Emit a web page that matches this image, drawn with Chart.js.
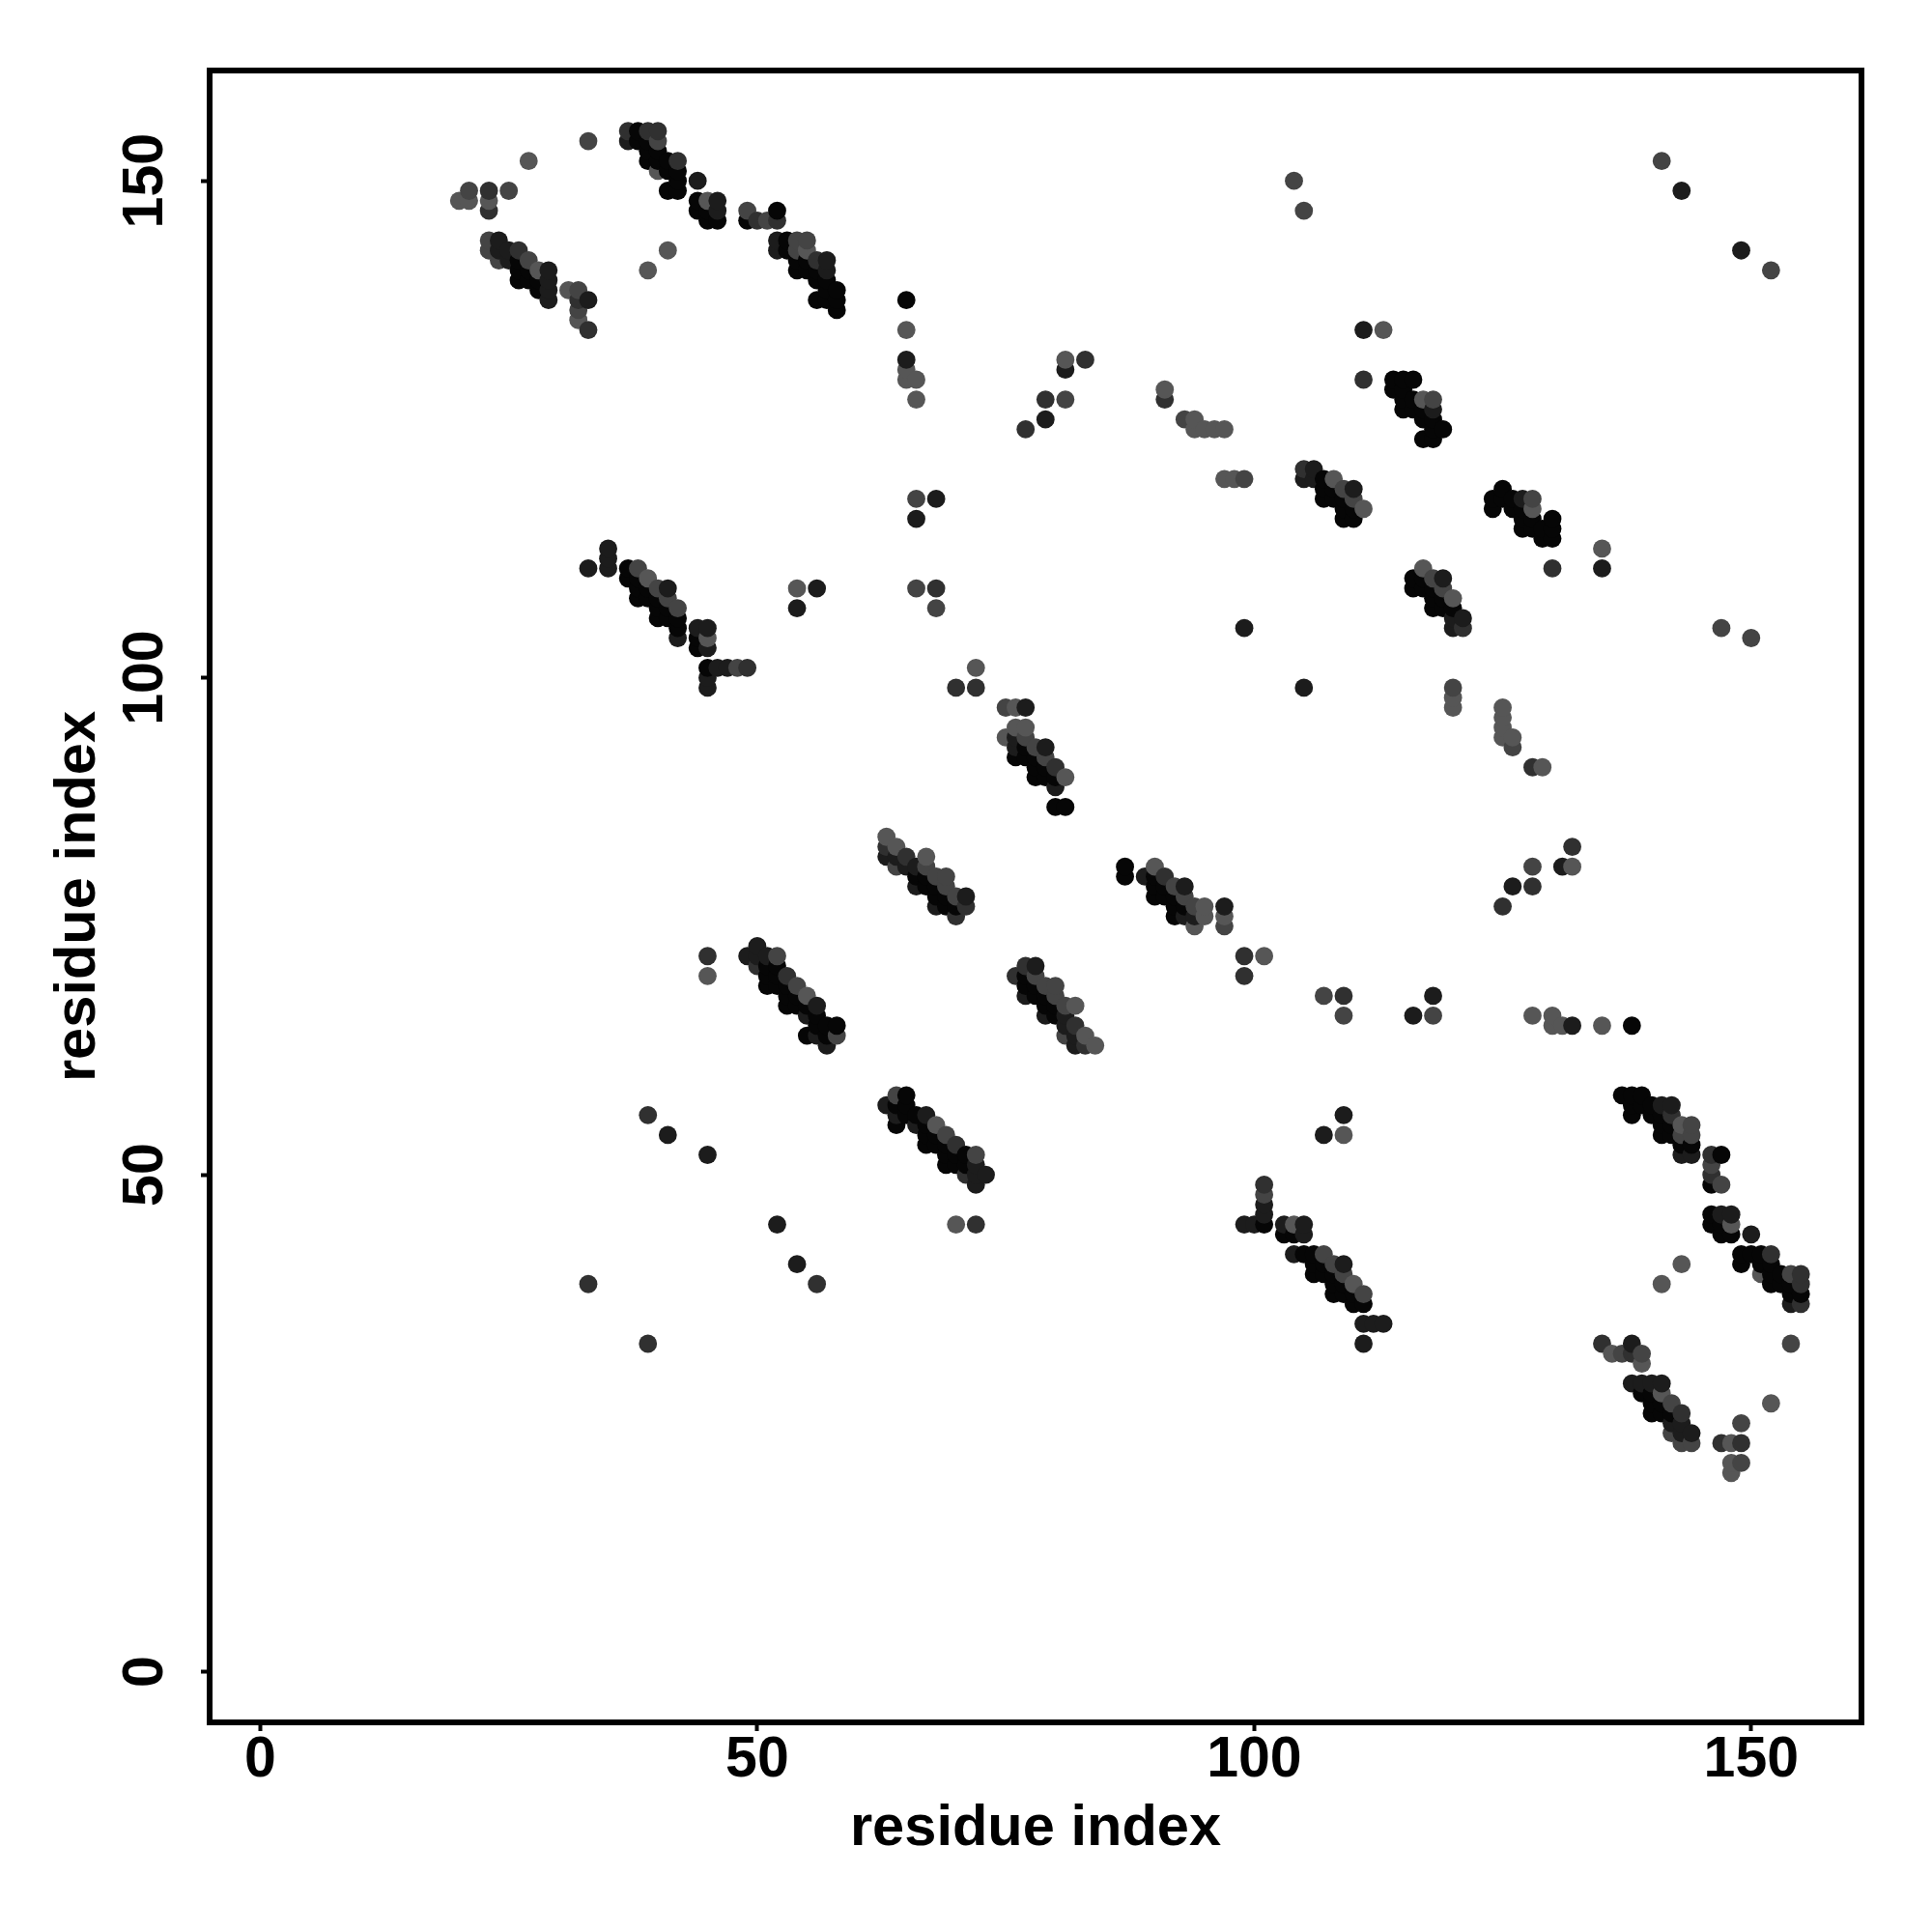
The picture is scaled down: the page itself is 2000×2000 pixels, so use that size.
<!DOCTYPE html>
<html>
<head>
<meta charset="utf-8">
<style>
  html, body { margin: 0; padding: 0; background: #fff; }
  canvas { display: block; }
</style>
<script src="https://cdn.jsdelivr.net/npm/chart.js@4/dist/chart.umd.min.js"></script>
</head>
<body>
<canvas id="contactMap" width="2000" height="2000"></canvas>
<script>
// tick labels and axis names
const xTicks = [0, 50, 100, 150];
const yTicks = [0, 50, 100, 150];
const axisName = 'residue index';

// contacts as [x, y], one list per grey level
const toneColors = ['#060606', '#1c1c1c', '#303030', '#444444', '#565656'];

const tone4 = [
  [20,148],[21,148],[23,148],[27,152],[28,141],[31,139],[32,136],[39,141],[41,143],[39,110],[40,151],[45,148],[55,143],
  [65,130],[65,131],[65,135],[66,128],[66,130],[81,132],[91,129],[94,125],[94,126],[95,125],[96,125],[97,125],[97,120],
  [98,120],[113,135],[117,128],[108,120],[111,117],[45,104],[72,101],[75,94],[76,95],[76,97],[77,95],[81,90],[63,84],
  [64,83],[67,82],[55,68],[54,109],[45,70],
  [148,20],[148,21],[148,23],[152,27],[141,28],[139,31],[136,32],[141,39],[143,41],[110,39],[151,40],[148,45],[143,55],
  [130,65],[131,65],[135,65],[128,66],[130,66],[132,81],[129,91],[125,94],[126,94],[125,95],[125,96],[125,97],[120,97],
  [120,98],[135,113],[128,117],[120,108],[117,111],[104,45],[101,72],[94,75],[95,76],[97,76],[95,77],[90,81],[84,63],
  [83,64],[82,67],[68,55],[109,54],[70,45]
];

const tone3 = [
  [21,149],[25,149],[33,154],[23,143],[23,144],[24,142],[27,142],[32,137],[32,139],[40,154],[49,147],[51,146],[54,143],
  [54,144],[55,144],[81,128],[93,126],[99,120],[66,118],[66,109],[68,107],[105,147],[104,150],[141,152],[118,128],
  [109,119],[110,118],[38,111],[40,109],[41,108],[42,107],[48,101],[75,97],[77,94],[78,93],[79,92],[64,81],[67,81],
  [68,80],[69,79],[69,80],[70,78],[52,72],[54,69],[58,64],
  [149,21],[149,25],[154,33],[143,23],[144,23],[142,24],[142,27],[137,32],[139,32],[154,40],[147,49],[146,51],[143,54],
  [144,54],[144,55],[128,81],[126,93],[120,99],[118,66],[109,66],[107,68],[147,105],[150,104],[152,141],[128,118],
  [119,109],[118,110],[111,38],[109,40],[108,41],[107,42],[101,48],[97,75],[94,77],[93,78],[92,79],[81,64],[81,67],
  [80,68],[79,69],[80,69],[78,70],[72,52],[69,54],[64,58]
];

const tone2 = [
  [23,147],[23,149],[26,143],[32,138],[33,135],[37,155],[39,155],[40,155],[42,152],[50,146],[52,146],[56,142],[77,125],
  [79,128],[83,132],[91,128],[68,109],[111,130],[105,121],[49,101],[70,99],[72,99],[80,91],[63,83],[65,82],[70,76],
  [71,77],[50,71],[53,70],[39,56],[33,39],[45,72],
  [147,23],[149,23],[143,26],[138,32],[135,33],[155,37],[155,39],[155,40],[152,42],[146,50],[146,52],[142,56],[125,77],
  [128,79],[132,83],[128,91],[109,68],[130,111],[121,105],[101,49],[99,70],[99,72],[91,80],[83,63],[82,65],[76,70],
  [77,71],[71,50],[70,53],[56,39],[39,33],[72,45]
];

const tone1 = [
  [24,143],[24,144],[25,142],[25,143],[29,138],[29,139],[29,140],[29,141],[33,138],[37,154],[44,150],[46,147],[46,148],
  [52,143],[52,144],[57,141],[57,142],[65,132],[79,126],[81,131],[118,127],[68,118],[66,116],[99,105],[56,109],[54,107],
  [143,149],[111,135],[105,120],[106,120],[106,121],[110,119],[33,111],[35,111],[35,112],[35,113],[41,109],[42,104],
  [44,105],[45,103],[45,105],[45,99],[45,100],[46,101],[47,101],[76,93],[76,94],[77,97],[79,93],[80,89],[63,82],[64,82],
  [65,81],[66,79],[66,81],[68,77],[71,78],[49,72],[50,72],[50,73],[51,72],[55,66],[56,64],[56,67],[57,63],[41,54],[45,52],
  [143,24],[144,24],[142,25],[143,25],[138,29],[139,29],[140,29],[141,29],[138,33],[154,37],[150,44],[147,46],[148,46],
  [143,52],[144,52],[141,57],[142,57],[132,65],[126,79],[131,81],[127,118],[118,68],[116,66],[105,99],[109,56],[107,54],
  [149,143],[135,111],[120,105],[120,106],[121,106],[119,110],[111,33],[111,35],[112,35],[113,35],[109,41],[104,42],
  [105,44],[103,45],[105,45],[99,45],[100,45],[101,46],[101,47],[93,76],[94,76],[97,77],[93,79],[89,80],[82,63],[82,64],
  [81,65],[79,66],[81,66],[77,68],[78,71],[72,49],[72,50],[73,50],[72,51],[66,55],[64,56],[67,56],[63,57],[54,41],[52,45]
];

const tone0 = [
  [26,140],[26,141],[26,142],[27,140],[27,141],[28,139],[28,140],[38,154],[38,155],[39,152],[39,153],[39,154],[40,152],
  [40,153],[41,149],[41,151],[41,152],[42,149],[42,150],[42,151],[44,147],[44,148],[45,146],[45,147],[46,146],[49,146],
  [52,147],[53,143],[53,144],[54,141],[54,142],[55,141],[55,142],[56,138],[56,140],[56,141],[57,138],[57,139],[57,140],
  [58,137],[58,138],[58,139],[65,138],[114,129],[114,130],[115,127],[115,128],[115,129],[115,130],[116,127],[116,128],
  [116,130],[117,124],[117,126],[117,127],[118,124],[118,125],[118,126],[119,125],[107,118],[107,119],[107,120],[108,118],
  [108,119],[109,116],[109,117],[109,118],[110,116],[110,117],[37,110],[37,111],[38,108],[38,109],[38,110],[39,108],
  [39,109],[40,106],[40,107],[40,108],[41,106],[41,107],[42,105],[42,106],[44,103],[44,104],[45,101],[76,92],[77,92],
  [77,93],[78,90],[78,91],[78,92],[79,90],[79,91],[80,87],[80,90],[81,87],[66,80],[67,79],[67,80],[68,78],[68,79],[69,77],
  [69,78],[70,77],[51,69],[51,70],[51,71],[52,69],[52,70],[52,71],[53,67],[53,68],[53,69],[54,67],[54,68],[55,64],[55,67],
  [56,65],[56,66],[57,64],[57,65],[58,65],
  [140,26],[141,26],[142,26],[140,27],[141,27],[139,28],[140,28],[154,38],[155,38],[152,39],[153,39],[154,39],[152,40],
  [153,40],[149,41],[151,41],[152,41],[149,42],[150,42],[151,42],[147,44],[148,44],[146,45],[147,45],[146,46],[146,49],
  [147,52],[143,53],[144,53],[141,54],[142,54],[141,55],[142,55],[138,56],[140,56],[141,56],[138,57],[139,57],[140,57],
  [137,58],[138,58],[139,58],[138,65],[129,114],[130,114],[127,115],[128,115],[129,115],[130,115],[127,116],[128,116],
  [130,116],[124,117],[126,117],[127,117],[124,118],[125,118],[126,118],[125,119],[118,107],[119,107],[120,107],[118,108],
  [119,108],[116,109],[117,109],[118,109],[116,110],[117,110],[110,37],[111,37],[108,38],[109,38],[110,38],[108,39],
  [109,39],[106,40],[107,40],[108,40],[106,41],[107,41],[105,42],[106,42],[103,44],[104,44],[101,45],[92,76],[92,77],
  [93,77],[90,78],[91,78],[92,78],[90,79],[91,79],[87,80],[90,80],[87,81],[80,66],[79,67],[80,67],[78,68],[79,68],[77,69],
  [78,69],[77,70],[69,51],[70,51],[71,51],[69,52],[70,52],[71,52],[67,53],[68,53],[69,53],[67,54],[68,54],[64,55],[67,55],
  [65,56],[66,56],[64,57],[65,57],[65,58]
];

// the original drew in order of x then y, so overlaps stack the same way
const points = [];
[tone0, tone1, tone2, tone3, tone4].forEach((list, tone) => {
  list.forEach(p => points.push({ x: p[0], y: p[1], color: toneColors[tone] }));
});
points.sort((a, b) => a.x - b.x || a.y - b.y);

const tickFont = { family: '"Liberation Sans", Arial, sans-serif', size: 59, weight: 'bold' };
const titleFont = { family: '"Liberation Sans", Arial, sans-serif', size: 59.6, weight: 'bold' };

// box round the plot
const framePlugin = {
  id: 'frame',
  afterDraw(chart) {
    const { ctx, chartArea: a } = chart;
    ctx.save();
    ctx.strokeStyle = '#000';
    ctx.lineWidth = 6;
    ctx.strokeRect(a.left, a.top, a.right - a.left, a.bottom - a.top);
    ctx.restore();
  }
};

new Chart(document.getElementById('contactMap').getContext('2d'), {
  type: 'scatter',
  data: {
    datasets: [{
      data: points,
      showLine: false,
      pointRadius: 9.4,
      pointBorderWidth: 0,
      pointBackgroundColor: points.map(p => p.color),
      clip: false
    }]
  },
  options: {
    responsive: false,
    animation: false,
    layout: { padding: { top: 73, right: 73, left: 0, bottom: 0 } },
    plugins: { legend: { display: false }, tooltip: { enabled: false } },
    scales: {
      x: {
        type: 'linear',
        min: -5.1,
        max: 161.1,
        afterBuildTicks: axis => { axis.ticks = xTicks.map(v => ({ value: v })); },
        afterFit: axis => { axis.height = 217; },
        grid: { drawOnChartArea: false, drawTicks: true, tickLength: 9, tickWidth: 4, tickColor: '#000' },
        border: { display: false },
        ticks: { color: '#000', font: tickFont, padding: -5, maxRotation: 0, minRotation: 0, autoSkip: false },
        title: { display: true, text: axisName, color: '#000', font: titleFont, padding: { top: 0, bottom: 71 } }
      },
      y: {
        type: 'linear',
        min: -5.1,
        max: 161.1,
        afterBuildTicks: axis => { axis.ticks = yTicks.map(v => ({ value: v })); },
        afterFit: axis => { axis.width = 217; },
        grid: { drawOnChartArea: false, drawTicks: true, tickLength: 9, tickWidth: 4, tickColor: '#000' },
        border: { display: false },
        ticks: { color: '#000', font: tickFont, padding: 7, minRotation: 90, maxRotation: 90, autoSkip: false, crossAlign: 'center' },
        title: { display: true, text: axisName, color: '#000', font: titleFont, padding: { top: 46, bottom: 0 } }
      }
    }
  },
  plugins: [framePlugin]
});
</script>
</body>
</html>
